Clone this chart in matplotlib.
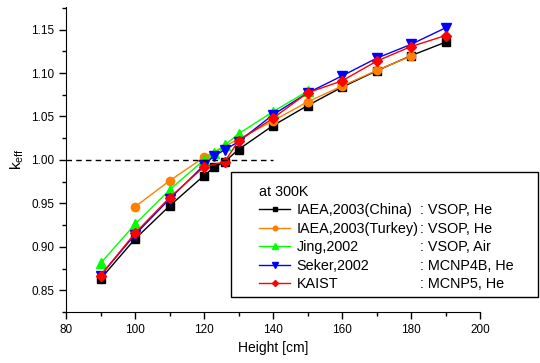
import numpy as np
import matplotlib
matplotlib.use("Agg")
import matplotlib.pyplot as plt
from matplotlib.ticker import MultipleLocator
from matplotlib.patches import Rectangle

plt.rcParams['font.family'] = ['Liberation Sans', 'DejaVu Sans']

# данные
x_china = [90, 100, 110, 120, 123, 126, 130, 140, 150, 160, 170, 180, 190]
y_china = [0.863, 0.909, 0.947, 0.982, 0.9916, 0.998, 1.012, 1.0395, 1.0625, 1.0837, 1.1025, 1.120, 1.1355]

x_turkey = [100, 110, 120, 140, 150, 160, 170, 180]
y_turkey = [0.946, 0.976, 1.003, 1.045, 1.0668, 1.085, 1.103, 1.1194]

x_jing = [90, 100, 110, 120, 123, 126, 130, 140, 150]
y_jing = [0.881, 0.926, 0.9655, 1.000, 1.0085, 1.017, 1.030, 1.0556, 1.079]

x_seker = [90, 100, 110, 120, 123, 126, 130, 140, 150, 160, 170, 180, 190]
y_seker = [0.867, 0.914, 0.955, 0.994, 1.005, 1.0115, 1.021, 1.052, 1.077, 1.0967, 1.117, 1.133, 1.152]

x_kaist = [90, 100, 110, 120, 126, 130, 140, 150, 160, 170, 180, 190]
y_kaist = [0.867, 0.9156, 0.9566, 0.992, 0.998, 1.022, 1.048, 1.0772, 1.091, 1.1136, 1.1305, 1.1431]

names = ["IAEA,2003(China)", "IAEA,2003(Turkey)", "Jing,2002", "Seker,2002", "KAIST"]
codes = [": VSOP, He", ": VSOP, He", ": VSOP, Air", ": MCNP4B, He", ": MCNP5, He"]

fig = plt.figure(figsize=(5.4, 3.63), dpi=100)
ax = fig.add_axes([66 / 540, 1 - 312 / 363, (480 - 66) / 540, (312 - 7) / 363])

ax.plot(x_china, y_china, color='black', marker='s', ms=5.5, lw=1, label=names[0])
ax.plot(x_turkey, y_turkey, color='#ff8000', marker='o', ms=6, lw=1, label=names[1])
ax.plot(x_jing, y_jing, color='#00ff00', marker='^', ms=7, lw=1, label=names[2])
ax.plot(x_seker, y_seker, color='#0000ff', marker='v', ms=7, lw=1, label=names[3])
ax.plot(x_kaist, y_kaist, color='#ff0000', marker='D', ms=5.5, lw=1, label=names[4])

# пунктир k=1
ax.plot([80, 140], [1.0, 1.0], color='black', ls=(0, (4, 3)), lw=1)

ax.set_xlim(80, 200)
ax.set_ylim(0.825, 1.176)
ax.xaxis.set_major_locator(MultipleLocator(20))
ax.xaxis.set_minor_locator(MultipleLocator(10))
ax.yaxis.set_major_locator(MultipleLocator(0.05))
ax.yaxis.set_minor_locator(MultipleLocator(0.025))
ax.yaxis.set_major_formatter(plt.FormatStrFormatter('%.2f'))
ax.tick_params(which='both', direction='out', labelsize=8.5, width=1)
ax.tick_params(which='major', length=5)
ax.tick_params(which='minor', length=3)
ax.spines['top'].set_visible(False)
ax.spines['right'].set_visible(False)
ax.set_xlabel("Height [cm]", fontsize=10)
ax.set_ylabel("k$_{\\mathregular{eff}}$", fontsize=11)

# рамка легенды
fig.add_artist(Rectangle((231 / 540, 1 - 297 / 363), (538 - 231) / 540, (297 - 172) / 363,
                         transform=fig.transFigure, fill=False, ec='black', lw=1))

leg = ax.legend(loc='upper left', bbox_to_anchor=(259 / 540, 1 - 185 / 363),
                bbox_transform=fig.transFigure, title="at 300K", borderaxespad=0,
                fontsize=10.4, title_fontsize=10.4, frameon=False, markerscale=0.55,
                handlelength=2.15, borderpad=0, labelspacing=0.31, handletextpad=0.45)
leg._legend_box.align = "left"

fig.canvas.draw()
# подписи кода справа от названий
for i, t in enumerate(leg.get_texts()):
    bb = t.get_window_extent()
    yc = (bb.y0 + bb.y1) / 2 / fig.bbox.height
    fig.text(420 / 540, yc, codes[i], fontsize=10.4, va='center', ha='left')

fig.savefig("out.png", dpi=100)
